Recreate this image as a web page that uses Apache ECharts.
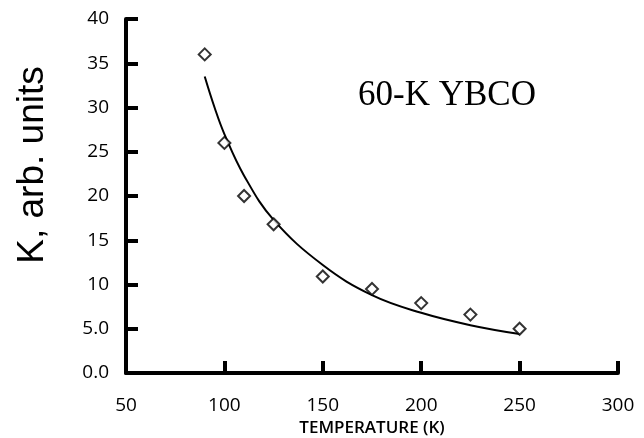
<!DOCTYPE html>
<html>
<head>
<meta charset="utf-8">
<script src="https://cdn.jsdelivr.net/npm/echarts@6/dist/echarts.min.js"></script>
<style>html,body{margin:0;padding:0;background:#fff}#c{width:644px;height:438px}</style>
</head>
<body>
<div id="c"></div>
<script>
// Measured data points (temperature K, K arb. units)
var pointT = [90, 100, 110, 125, 150, 175, 200, 225, 250];
var pointK = [36, 26, 20, 16.8, 10.9, 9.5, 7.9, 6.6, 5.0];
// Fit curve
var fitT = [90, 95, 100, 110, 125, 150, 175, 200, 225, 250];
var fitK = [33.5, 30.0, 27.0, 22.3, 17.3, 12.2, 8.8, 6.8, 5.4, 4.4];
// Tick labels
var yTickValues = [0, 5, 10, 15, 20, 25, 30, 35, 40];
var yTickLabels = ['0.0', '5.0', '10', '15', '20', '25', '30', '35', '40'];
var xTickLabels = ['50', '100', '150', '200', '250', '300'];

var chart = echarts.init(document.getElementById('c'));
var axisFont = 'Open Sans';
chart.setOption({
  animation: false,
  grid: {left: 126, right: 26, top: 19, bottom: 65, containLabel: false, outerBoundsMode: 'none'},
  xAxis: {
    type: 'value', min: 50, max: 300, interval: 50,
    name: 'TEMPERATURE (K)', nameLocation: 'middle', nameGap: 40,
    nameTextStyle: {fontFamily: 'Open Sans', fontSize: 17, fontWeight: 600, color: '#000'},
    axisLine: {show: true, onZero: false, lineStyle: {color: '#000', width: 4}},
    axisTick: {show: true, inside: true, length: 12, lineStyle: {color: '#000', width: 4}},
    axisLabel: {margin: 23, fontFamily: axisFont, fontSize: 19, color: '#000',
      formatter: function (v) { var i = (v - 50) / 50; return xTickLabels[i] || ''; }},
    splitLine: {show: false}
  },
  yAxis: {
    type: 'value', min: 0, max: 40, interval: 5,
    axisLine: {show: true, lineStyle: {color: '#000', width: 4}},
    axisTick: {show: true, inside: true, length: 12, lineStyle: {color: '#000', width: 4}},
    axisLabel: {margin: 17, fontFamily: axisFont, fontSize: 19, color: '#000',
      formatter: function (v) { var i = yTickValues.indexOf(v); return i >= 0 ? yTickLabels[i] : ''; }},
    splitLine: {show: false}
  },
  graphic: [
    {type: 'text', left: 358, top: 78, style: {text: '60-K YBCO', font: '35px "Liberation Serif", "Times New Roman", serif', fill: '#000'}},
    {type: 'text', x: 33, y: 165, rotation: Math.PI / 2,
      style: {text: 'K, arb. units', font: '37px "Liberation Sans", Arial, sans-serif', fill: '#000', align: 'center', verticalAlign: 'middle'}}
  ],
  series: [
    {type: 'line', data: fitT.map(function (t, i) { return [t, fitK[i]]; }), smooth: 0.4, showSymbol: false,
      lineStyle: {color: '#000', width: 2}, silent: true, z: 2},
    {type: 'scatter', data: pointT.map(function (t, i) { return [t, pointK[i]]; }), symbol: 'diamond', symbolSize: [12, 12],
      itemStyle: {color: '#fff', borderColor: '#000', borderWidth: 2}, z: 3}
  ]
});
</script>
</body>
</html>
